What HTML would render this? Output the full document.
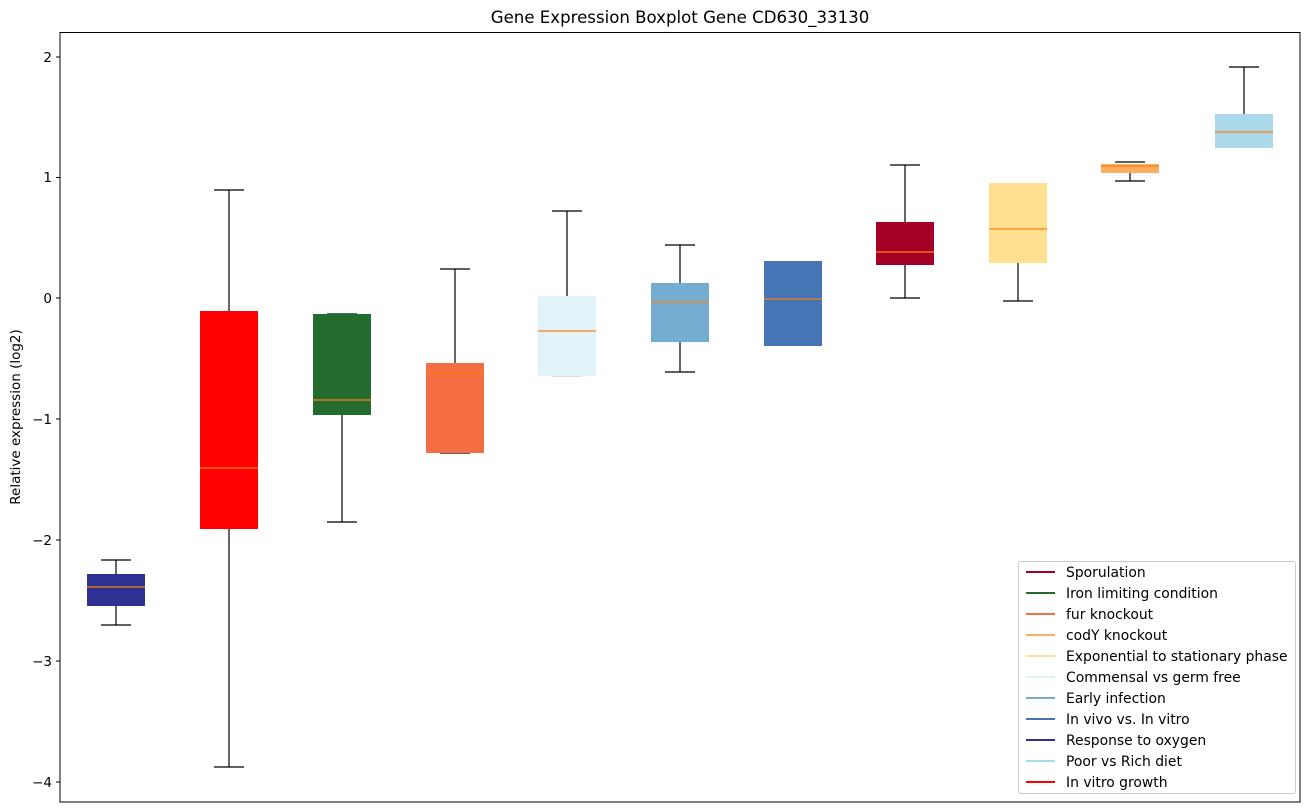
<!DOCTYPE html>
<html><head><meta charset="utf-8"><style>body{margin:0;background:#fff}svg{display:block;font-family:"DejaVu Sans","Liberation Sans",sans-serif}</style></head><body>
<svg width="1309" height="812" xmlns="http://www.w3.org/2000/svg">
<rect width="1309" height="812" fill="#fff"/>
<text x="680" y="23" font-size="16.6" text-anchor="middle">Gene Expression Boxplot Gene CD630_33130</text>
<g font-size="13.5" text-anchor="end">
<line x1="56" x2="60" y1="57" y2="57" stroke="#000"/><text x="52" y="62">2</text>
<line x1="56" x2="60" y1="177.5" y2="177.5" stroke="#000"/><text x="52" y="182">1</text>
<line x1="56" x2="60" y1="298" y2="298" stroke="#000"/><text x="52" y="303">0</text>
<line x1="56" x2="60" y1="419" y2="419" stroke="#000"/><text x="52" y="424">−1</text>
<line x1="56" x2="60" y1="540" y2="540" stroke="#000"/><text x="52" y="545">−2</text>
<line x1="56" x2="60" y1="661" y2="661" stroke="#000"/><text x="52" y="666">−3</text>
<line x1="56" x2="60" y1="782" y2="782" stroke="#000"/><text x="52" y="787">−4</text>
</g>
<text transform="translate(20,417) rotate(-90)" font-size="13.5" text-anchor="middle">Relative expression (log2)</text>
<g stroke="#000" stroke-width="1.2">
<!-- box1 -->
<line x1="116" x2="116" y1="560" y2="574"/><line x1="116" x2="116" y1="606" y2="625"/>
<line x1="101" x2="131" y1="560" y2="560"/><line x1="101" x2="131" y1="625" y2="625"/>
<rect x="87" y="574" width="58" height="32" fill="#2e3192" stroke="none"/>
<line x1="87" x2="145" y1="587" y2="587" stroke="#ff7f0e"/>
<!-- box2 -->
<line x1="229" x2="229" y1="190" y2="311"/><line x1="229" x2="229" y1="529" y2="767"/>
<line x1="214" x2="244" y1="190" y2="190"/><line x1="214" x2="244" y1="767" y2="767"/>
<rect x="200" y="311" width="58" height="218" fill="#ff0000" stroke="none"/>
<line x1="200" x2="258" y1="468" y2="468" stroke="#ff7f0e"/>
<!-- box3 -->
<line x1="342" x2="342" y1="415" y2="522"/>
<line x1="327" x2="357" y1="314" y2="314"/><line x1="327" x2="357" y1="522" y2="522"/>
<rect x="313" y="314" width="58" height="101" fill="#236b2e" stroke="none"/>
<line x1="313" x2="371" y1="400" y2="400" stroke="#ff7f0e"/>
<!-- box4 -->
<line x1="455" x2="455" y1="269" y2="363"/>
<line x1="440" x2="470" y1="269" y2="269"/><line x1="440" x2="470" y1="453" y2="453"/>
<rect x="426" y="363" width="58" height="90" fill="#f46d43" stroke="none"/>
<line x1="426" x2="484" y1="373" y2="373" stroke="#ff7f0e"/>
<!-- box5 -->
<line x1="567" x2="567" y1="211" y2="296"/>
<line x1="552" x2="582" y1="211" y2="211"/><line x1="552" x2="582" y1="376" y2="376" stroke="#ccc"/>
<rect x="538" y="296" width="58" height="80" fill="#e0f3f8" stroke="none"/>
<line x1="538" x2="596" y1="331" y2="331" stroke="#ff7f0e"/>
<!-- box6 -->
<line x1="680" x2="680" y1="245" y2="283"/><line x1="680" x2="680" y1="342" y2="372"/>
<line x1="665" x2="695" y1="245" y2="245"/><line x1="665" x2="695" y1="372" y2="372"/>
<rect x="651" y="283" width="58" height="59" fill="#74add1" stroke="none"/>
<line x1="651" x2="709" y1="302" y2="302" stroke="#ff7f0e"/>
<!-- box7 -->
<rect x="764" y="261" width="58" height="85" fill="#4575b4" stroke="none"/>
<line x1="764" x2="822" y1="299" y2="299" stroke="#ff7f0e"/>
<!-- box8 -->
<line x1="905" x2="905" y1="165" y2="222"/><line x1="905" x2="905" y1="265" y2="298"/>
<line x1="890" x2="920" y1="165" y2="165"/><line x1="890" x2="920" y1="298" y2="298"/>
<rect x="876" y="222" width="58" height="43" fill="#a50026" stroke="none"/>
<line x1="876" x2="934" y1="252" y2="252" stroke="#ff7f0e"/>
<!-- box9 -->
<line x1="1018" x2="1018" y1="263" y2="301"/>
<line x1="1003" x2="1033" y1="301" y2="301"/>
<rect x="989" y="183" width="58" height="80" fill="#fee090" stroke="none"/>
<line x1="989" x2="1047" y1="229" y2="229" stroke="#ff7f0e"/>
<!-- box10 -->
<line x1="1130" x2="1130" y1="173" y2="181"/>
<line x1="1115" x2="1145" y1="162" y2="162"/><line x1="1115" x2="1145" y1="181" y2="181"/>
<rect x="1101" y="164" width="58" height="9" fill="#fdae61" stroke="none"/>
<line x1="1101" x2="1159" y1="166" y2="166" stroke="#ff7f0e"/>
<!-- box11 -->
<line x1="1244" x2="1244" y1="67" y2="114"/>
<line x1="1229" x2="1259" y1="67" y2="67"/>
<rect x="1215" y="114" width="58" height="34" fill="#abd9e9" stroke="none"/>
<line x1="1215" x2="1273" y1="132" y2="132" stroke="#ff7f0e"/>
</g>
<rect x="60" y="32.5" width="1240" height="769.5" fill="none" stroke="#000"/>
<rect x="1018.5" y="561.5" width="277" height="232" fill="#fff" stroke="#ccc" rx="2"/>
<g font-size="13.9" stroke-width="2">
<line x1="1026" x2="1055" y1="572" y2="572" stroke="#a50026"/><text x="1066" y="577">Sporulation</text>
<line x1="1026" x2="1055" y1="593" y2="593" stroke="#236b2e"/><text x="1066" y="598">Iron limiting condition</text>
<line x1="1026" x2="1055" y1="614" y2="614" stroke="#f46d43"/><text x="1066" y="619">fur knockout</text>
<line x1="1026" x2="1055" y1="635" y2="635" stroke="#fdae61"/><text x="1066" y="640">codY knockout</text>
<line x1="1026" x2="1055" y1="656" y2="656" stroke="#fee090"/><text x="1066" y="661">Exponential to stationary phase</text>
<line x1="1026" x2="1055" y1="677" y2="677" stroke="#e0f3f8"/><text x="1066" y="682">Commensal vs germ free</text>
<line x1="1026" x2="1055" y1="698" y2="698" stroke="#74add1"/><text x="1066" y="703">Early infection</text>
<line x1="1026" x2="1055" y1="719" y2="719" stroke="#4575b4"/><text x="1066" y="724">In vivo vs. In vitro</text>
<line x1="1026" x2="1055" y1="740" y2="740" stroke="#2e3192"/><text x="1066" y="745">Response to oxygen</text>
<line x1="1026" x2="1055" y1="761" y2="761" stroke="#abd9e9"/><text x="1066" y="766">Poor vs Rich diet</text>
<line x1="1026" x2="1055" y1="782" y2="782" stroke="#ff0000"/><text x="1066" y="787">In vitro growth</text>
</g>
</svg>
</body></html>
